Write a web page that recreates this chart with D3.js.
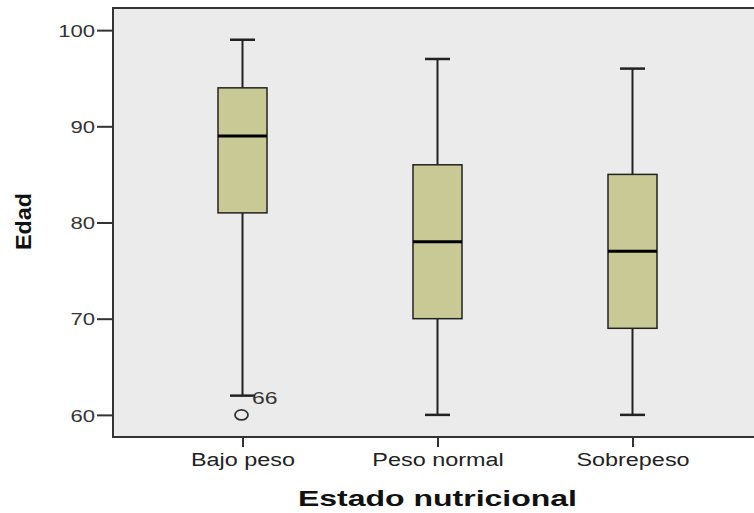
<!DOCTYPE html>
<html><head><meta charset="utf-8">
<script src="https://cdn.jsdelivr.net/npm/d3@7"></script>
<style>body{margin:0;background:#fff}svg{display:block}text{font-family:Arial,"Liberation Sans",sans-serif}</style>
</head><body><svg id="c" width="754" height="513"></svg>
<script>
const categories = ["Bajo peso", "Peso normal", "Sobrepeso"];
const whiskerLow = [62, 60, 60];
const q1 = [81, 70, 69];
const median = [89, 78, 77];
const q3 = [94, 86, 85];
const whiskerHigh = [99, 97, 96];
const outlierCat = ["Bajo peso"];
const outlierVal = [60];
const outlierLabel = ["66"];
const yTicks = [60, 70, 80, 90, 100];

const svg = d3.select("#c");
const L = 113, T = 8, R = 760, B = 437;
const y = d3.scaleLinear().domain([57.7, 102.3]).range([B, T]);
const x = d3.scalePoint().domain(categories).range([242.5, 632.5]);

function stretch(sel, f) {
  sel.each(function () {
    const n = this.getComputedTextLength();
    d3.select(this).attr("textLength", n * f).attr("lengthAdjust", "spacingAndGlyphs");
  });
}

svg.append("rect").attr("x", L).attr("y", T).attr("width", R - L).attr("height", B - T).attr("fill", "#ebebeb");
svg.append("path").attr("d", `M${R},${T}H${L}V${B}H${R}`).attr("fill", "none").attr("stroke", "#333").attr("stroke-width", 2);

// y axis
const ya = svg.append("g").attr("transform", `translate(${L},0)`)
  .call(d3.axisLeft(y).tickValues(yTicks).tickSize(16).tickPadding(2));
ya.select(".domain").remove();
ya.selectAll("line").attr("stroke", "#333").attr("stroke-width", 2);
ya.selectAll("text").attr("font-size", 17).attr("fill", "#333").attr("dy", "0.36em");
stretch(ya.selectAll("text"), 1.3);

// x axis
const xa = svg.append("g").attr("transform", `translate(0,${B})`)
  .call(d3.axisBottom(x).tickSize(10).tickPadding(6));
xa.select(".domain").remove();
xa.selectAll("line").attr("stroke", "#333").attr("stroke-width", 2);
xa.selectAll("text").attr("font-size", 18).attr("fill", "#222").attr("dy", "0.71em");
stretch(xa.selectAll("text"), 1.3);

const bw = 49, cw = 25;
const g = svg.append("g");
categories.forEach((c, i) => {
  const cx = x(c);
  g.append("line").attr("x1", cx).attr("x2", cx).attr("y1", y(whiskerHigh[i])).attr("y2", y(q3[i])).attr("stroke", "#222").attr("stroke-width", 2);
  g.append("line").attr("x1", cx).attr("x2", cx).attr("y1", y(q1[i])).attr("y2", y(whiskerLow[i])).attr("stroke", "#222").attr("stroke-width", 2);
  g.append("line").attr("x1", cx - cw/2).attr("x2", cx + cw/2).attr("y1", y(whiskerHigh[i])).attr("y2", y(whiskerHigh[i])).attr("stroke", "#222").attr("stroke-width", 2.5);
  g.append("line").attr("x1", cx - cw/2).attr("x2", cx + cw/2).attr("y1", y(whiskerLow[i])).attr("y2", y(whiskerLow[i])).attr("stroke", "#222").attr("stroke-width", 2.5);
  g.append("rect").attr("x", cx - bw/2).attr("y", y(q3[i])).attr("width", bw).attr("height", y(q1[i]) - y(q3[i]))
    .attr("fill", "#c9c995").attr("stroke", "#222").attr("stroke-width", 1.5);
  g.append("line").attr("x1", cx - bw/2).attr("x2", cx + bw/2).attr("y1", y(median[i])).attr("y2", y(median[i])).attr("stroke", "#000").attr("stroke-width", 3);
});
outlierCat.forEach((c, i) => {
  g.append("ellipse").attr("cx", x(c) - 1).attr("cy", y(outlierVal[i])).attr("rx", 6.5).attr("ry", 5).attr("fill", "none").attr("stroke", "#333").attr("stroke-width", 1.8);
  const t = g.append("text").attr("x", x(c) + 9.5).attr("y", y(outlierVal[i]) - 11).attr("font-size", 17).attr("fill", "#333").text(outlierLabel[i]);
  stretch(t, 1.35);
});

const title = svg.append("text").attr("x", 437.5).attr("y", 506).attr("text-anchor", "middle").attr("font-size", 22).attr("font-weight", "bold").attr("fill", "#111").text("Estado nutricional");
title.attr("textLength", 279).attr("lengthAdjust", "spacingAndGlyphs");
svg.append("text").attr("transform", `translate(31,221.5) rotate(-90)`).attr("text-anchor", "middle").attr("font-size", 22).attr("font-weight", "bold").attr("fill", "#111").attr("textLength", 57).attr("lengthAdjust", "spacingAndGlyphs").text("Edad");
</script></body></html>
